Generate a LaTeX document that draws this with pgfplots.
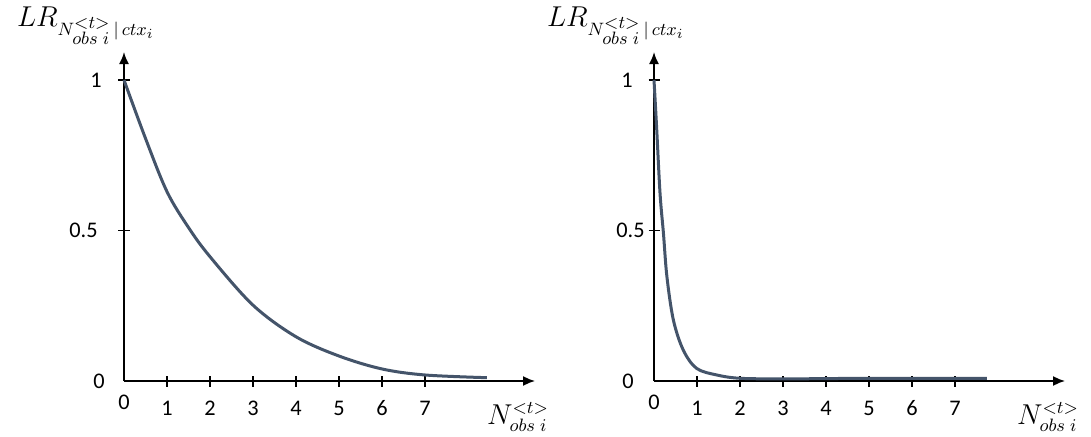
\documentclass[border=0pt]{standalone}
\usepackage{pgfplots}
\pgfplotsset{compat=1.18}
\usepackage{fontspec}
\setmainfont{Carlito}
\usetikzlibrary{arrows.meta}
\definecolor{curve}{HTML}{44546A}

% Left curve: slow decay of the likelihood ratio
\pgfplotstableread{
x y
0 1
0.5 0.806
1 0.629
1.5 0.510
2 0.413
3 0.252
4 0.147
5 0.083
6 0.040
7 0.020
8.44 0.011
}\slowdecay

% Right curve: fast decay
\pgfplotstableread{
x y
0 1
0.06 0.845
0.14 0.624
0.22 0.49
0.30 0.347
0.45 0.203
0.68 0.103
0.99 0.042
1.46 0.020
2.00 0.009
3.00 0.007
4.00 0.008
5.00 0.009
6.00 0.009
7.00 0.009
7.74 0.009
}\fastdecay

\newcommand{\nobs}{N^{\scriptstyle <t>}_{\scriptstyle obs\;i}}
\newcommand{\lrlabel}{{\fontsize{13.5}{16}\selectfont$LR_{\nobs\,|\,ctx_i}$}}
\newcommand{\nlabel}{{\fontsize{13.5}{16}\selectfont$N^{<t>}_{obs\;i}$}}

\pgfplotsset{
  lrplot/.style={
    x=21.5bp, y=150.5bp,
    xmin=0, xmax=9.56, ymin=0, ymax=1.093,
    axis lines=left,
    axis line style={line width=0.9bp, -{Latex[length=6bp,width=5bp]}},
    xtick={1,2,3,4,5,6,7},
    xticklabels={1,2,3,4,5,6,7},
    extra x ticks={0}, extra x tick labels={0},
    extra x tick style={major tick length=0pt},
    ytick={0.5,1},
    extra y ticks={0},
    extra y tick style={major tick length=0pt},
    tick align=center,
    major tick length=5.5bp,
    tick style={black, line width=0.8bp},
    tick label style={font=\fontsize{11.2}{13}\selectfont},
    xticklabel style={anchor=north, inner sep=0pt, yshift=-7bp},
    yticklabel style={anchor=east, inner sep=0pt},
    every axis y label/.style={at={(axis cs:0,0)}, anchor=base west, xshift=-57bp, yshift=177bp},
    every axis x label/.style={at={(axis cs:0,0)}, anchor=center, xshift=197bp, yshift=-18bp},
    xlabel={\nlabel}, ylabel={\lrlabel},
    clip=false,
  },
  lrcurve/.style={color=curve, line width=1.5bp, smooth, tension=0.55, no markers},
}

\begin{document}
\begin{tikzpicture}
\useasboundingbox (-62bp,-28bp) rectangle (483.5bp,190.5bp);

\begin{axis}[lrplot, at={(0,0)}, anchor=south west,
  yticklabels={\hbox{0.5\kern10.25bp},\hbox{1\kern8.25bp}},
  extra y tick labels={\hbox{0\kern9.5bp}}]
  \addplot[lrcurve] table {\slowdecay};
\end{axis}

\begin{axis}[lrplot, at={(265bp,0)}, anchor=south west,
  yticklabels={\hbox{0.5\kern1.75bp},\hbox{1\kern7.75bp}},
  extra y tick labels={\hbox{0\kern10bp}}]
  \addplot[lrcurve] table {\fastdecay};
\end{axis}
\end{tikzpicture}
\end{document}
